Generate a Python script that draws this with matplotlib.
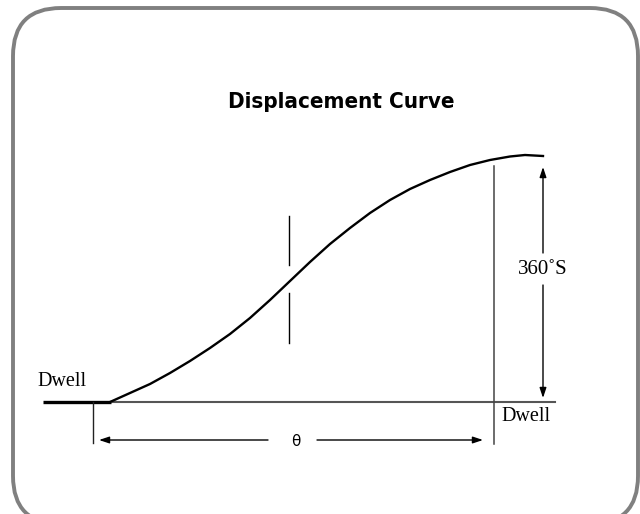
import matplotlib.pyplot as plt
from matplotlib.patches import FancyBboxPatch

# Displacement curve (pixel coords, y down)
curve_x = [110, 130, 150, 170, 190, 210, 230, 250, 270, 290, 310, 330,
           350, 370, 390, 410, 430, 450, 470, 490, 510, 525, 543]
curve_y = [402, 393, 384, 373, 361, 348, 334, 318, 300, 281, 262, 244,
           228, 213, 200, 189, 180, 172, 165, 160, 156.5, 155, 156]

title = "Displacement Curve"
dwell_label = "Dwell"
rise_label = "360˚S"
angle_label = "θ"

fig = plt.figure(figsize=(6.4, 5.14), dpi=100)
ax = fig.add_axes([0, 0, 1, 1])
ax.set_xlim(0, 640)
ax.set_ylim(514, 0)
ax.axis('off')

# rounded frame
frame = FancyBboxPatch((13, 8), 625, 516, boxstyle="round,pad=0,rounding_size=48",
                       fc='white', ec='#808080', lw=2.8)
ax.add_patch(frame)

ax.text(341, 102, title, ha='center', va='center', fontsize=16,
        fontweight='heavy', fontstretch='condensed', family='DejaVu Sans')

# baseline: dwell part thick, rest thin gray
ax.plot([43, 111], [402, 402], color='black', lw=2.4, solid_capstyle='butt')
ax.plot([111, 555], [402, 402], color='#555555', lw=1.5)

# the curve
ax.plot(curve_x, curve_y, color='black', lw=1.7, solid_joinstyle='round')

# vertical guides
ax.plot([494, 494], [166, 444], color='#444444', lw=1.1)
ax.plot([93, 93], [402, 443], color='#222222', lw=1.0)
ax.plot([289, 289], [216, 265], color='black', lw=1.0)
ax.plot([289, 289], [293, 343], color='black', lw=1.0)

arrow = dict(arrowstyle='-|>,head_length=0.6,head_width=0.2', color='black', lw=1.0,
             shrinkA=0, shrinkB=0)
# rise arrow
ax.annotate('', xy=(543, 167), xytext=(543, 253), arrowprops=arrow)
ax.annotate('', xy=(543, 398), xytext=(543, 285), arrowprops=arrow)
ax.text(543, 270, rise_label, ha='center', va='center', fontsize=15,
        family='Liberation Serif')

# angle arrow
ax.annotate('', xy=(99, 440), xytext=(268, 440), arrowprops=arrow)
ax.annotate('', xy=(483, 440), xytext=(317, 440), arrowprops=arrow)
ax.text(296, 441, angle_label, ha='center', va='center', fontsize=11, family='DejaVu Sans')

ax.text(37, 386, dwell_label, ha='left', va='baseline', fontsize=14.5, family='Liberation Serif')
ax.text(501, 421, dwell_label, ha='left', va='baseline', fontsize=14.5, family='Liberation Serif')

fig.savefig('out.png', dpi=100)
